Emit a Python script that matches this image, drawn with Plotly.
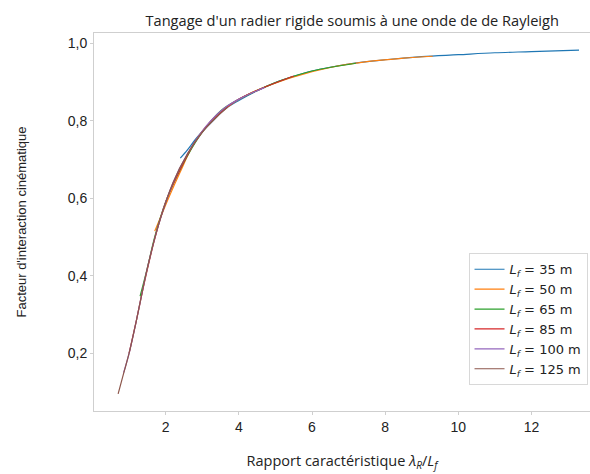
import plotly.graph_objects as go

labels = ["35", "50", "65", "85", "100", "125"]
colors = ["#1f77b4", "#ff7f0e", "#2ca02c", "#d62728", "#9467bd", "#8c564b"]

x35 = [2.4, 2.6, 2.8, 3.0, 3.3, 3.6, 4.0, 4.5, 5.0, 5.5, 6.0, 7.0, 8.0, 9.0, 10.0, 11.0, 12.0, 13.3]
y35 = [0.703, 0.725, 0.75, 0.772, 0.80, 0.828, 0.852, 0.877, 0.898, 0.914, 0.928, 0.946, 0.957, 0.965, 0.970, 0.975, 0.978, 0.982]
x50 = [1.7, 1.9, 2.1, 2.4, 2.7, 3.0, 3.4, 3.8, 4.3, 4.8, 5.5, 6.5, 7.5, 8.5, 9.3]
y50 = [0.515, 0.56, 0.605, 0.668, 0.728, 0.772, 0.812, 0.843, 0.87, 0.89, 0.913, 0.937, 0.952, 0.961, 0.966]
x65 = [1.3, 1.5, 1.7, 2.0, 2.3, 2.6, 3.0, 3.5, 4.0, 4.6, 5.2, 6.0, 7.2]
y65 = [0.347, 0.42, 0.50, 0.59, 0.655, 0.71, 0.77, 0.825, 0.855, 0.882, 0.905, 0.928, 0.948]
x85 = [1.0, 1.2, 1.4, 1.7, 2.0, 2.4, 2.8, 3.3, 3.9, 4.6, 5.5]
y85 = [0.20, 0.285, 0.375, 0.495, 0.59, 0.675, 0.745, 0.805, 0.85, 0.882, 0.915]
x100 = [0.85, 1.0, 1.2, 1.5, 1.8, 2.2, 2.6, 3.1, 3.6, 4.1, 4.7]
y100 = [0.15, 0.20, 0.285, 0.42, 0.53, 0.64, 0.715, 0.785, 0.832, 0.86, 0.885]
x125 = [0.7, 0.85, 1.0, 1.2, 1.5, 1.8, 2.2, 2.6, 3.0, 3.4, 3.7]
y125 = [0.095, 0.148, 0.20, 0.285, 0.42, 0.53, 0.64, 0.715, 0.77, 0.81, 0.835]

xs = [x35, x50, x65, x85, x100, x125]
ys = [y35, y50, y65, y85, y100, y125]

fig = go.Figure()
for lab, c, x, y in zip(labels, colors, xs, ys):
    fig.add_trace(go.Scatter(
        x=x, y=y, mode="lines", line=dict(color=c, width=1.2, shape="spline"),
        name=f"<i>L</i><sub><i>f</i></sub> = {lab} m"))

axis_common = dict(showgrid=False, zeroline=False, showline=True, linecolor="#cfcfcf",
                   linewidth=1, mirror=True, ticks="outside", ticklen=3, tickcolor="#cfcfcf",
                   tickfont=dict(family="Liberation Sans", size=14, color="#222"))

fig.update_layout(
    width=590, height=474,
    margin=dict(l=94, r=0, t=33, b=63),
    paper_bgcolor="white", plot_bgcolor="white",
    separators=", ",
    title=dict(text="Tangage d'un radier rigide soumis à une onde de de Rayleigh",
               x=0.597, xanchor="center", y=0.956, yanchor="middle",
               font=dict(family="Open Sans", size=14.6, color="#222")),
    xaxis=dict(range=[0.04, 13.6], tickvals=[2, 4, 6, 8, 10, 12],
               title=dict(text="Rapport caractéristique <i>λ</i><sub><i>R</i></sub>/<i>L</i><sub><i>f</i></sub>",
                          font=dict(family="Open Sans", size=14.5, color="#222"), standoff=22),
               **axis_common),
    yaxis=dict(range=[0.051, 1.026], tickvals=[0.2, 0.4, 0.6, 0.8, 1.0], tickformat=".1f",
               title=dict(text="Facteur d'interaction cinématique",
                          font=dict(family="Liberation Sans", size=13, color="#222"), standoff=38),
               **axis_common),
    legend=dict(x=0.995, y=0.068, xanchor="right", yanchor="bottom",
                bordercolor="#d8d8d8", borderwidth=1, bgcolor="white",
                font=dict(family="DejaVu Sans", size=13, color="#222"),
                tracegroupgap=2, itemwidth=30),
    showlegend=True,
)

fig.write_html("out.html")
